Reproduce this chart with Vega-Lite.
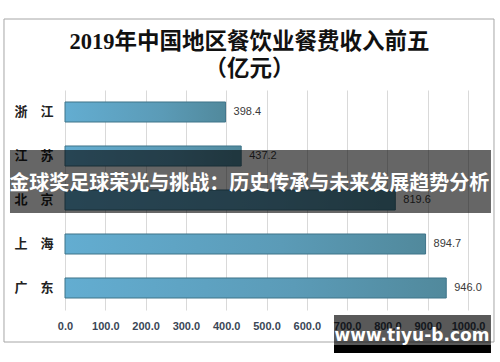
{
  "$schema": "https://vega.github.io/schema/vega-lite/v6.json",
  "width": 403,
  "height": 220,
  "autosize": {"type": "none"},
  "padding": {"left": 65, "top": 90, "right": 32, "bottom": 52},
  "background": "white",
  "config": {"view": {"stroke": null}},
  "title": {
    "text": ["2019年中国地区餐饮业餐费收入前五", "（亿元）"],
    "font": "Liberation Serif, Noto Sans CJK SC",
    "fontSize": 22.5,
    "fontWeight": "bold",
    "color": "#111111",
    "anchor": "middle",
    "frame": "group",
    "dx": -17,
    "offset": -62,
    "lineHeight": 27
  },
  "layer": [
    {
      "data": {"values": [{"x1": -151.4, "x2": 1064.5, "y1": -71, "y2": 252}]},
      "mark": {"type": "rect", "fill": null, "stroke": "#a6a6a6", "strokeWidth": 1},
      "encoding": {
        "x": {"field": "x1", "type": "quantitative", "scale": {"domain": [0, 1000], "nice": false}},
        "x2": {"field": "x2"},
        "y": {"field": "y1", "type": "quantitative", "scale": {"domain": [0, 220], "reverse": true, "nice": false, "zero": false}, "axis": null},
        "y2": {"field": "y2"}
      }
    },
    {
      "data": {"values": [
        {"region": "浙　江", "value": 398.4},
        {"region": "江　苏", "value": 437.2},
        {"region": "北　京", "value": 819.6},
        {"region": "上　海", "value": 894.7},
        {"region": "广　东", "value": 946.0}
      ]},
      "encoding": {
        "y": {
          "field": "region", "type": "nominal", "sort": null,
          "scale": {"paddingInner": 0.545, "paddingOuter": 0.2725},
          "axis": {
            "title": null, "ticks": false, "domain": false, "grid": false,
            "labelFont": "Liberation Serif, Noto Sans CJK SC", "labelFontSize": 13, "labelFontWeight": "bold",
            "labelColor": "#222222", "labelPadding": 12
          }
        },
        "x": {
          "field": "value", "type": "quantitative",
          "scale": {"domain": [0, 1000], "nice": false},
          "axis": {
            "title": null, "values": [0, 100, 200, 300, 400, 500, 600, 700, 800, 900, 1000],
            "format": ".1f", "ticks": false, "domain": false, "grid": true, "gridColor": "#d9d9d9",
            "labelOverlap": false, "labelFlush": false,
            "labelFont": "Liberation Sans", "labelFontSize": 11, "labelFontWeight": "bold",
            "labelColor": "#3a4656", "labelPadding": 10
          }
        }
      },
      "layer": [
        {
          "mark": {
            "type": "bar",
            "color": {"gradient": "linear", "x1": 0, "x2": 1, "y1": 0, "y2": 0,
              "stops": [{"offset": 0, "color": "#63add1"}, {"offset": 0.6, "color": "#5b9bb7"}, {"offset": 1, "color": "#51899c"}]},
            "stroke": "#3f7489",
            "strokeWidth": 1
          }
        },
        {
          "mark": {"type": "text", "align": "left", "dx": 8, "font": "Liberation Sans", "fontSize": 11, "color": "#3a3a3a"},
          "encoding": {"text": {"field": "value", "type": "quantitative", "format": ".1f"}}
        }
      ]
    },
    {
      "data": {"values": [{"x1": -136.5, "x2": 1057, "y1": 60, "y2": 123}]},
      "mark": {"type": "rect", "color": "#000000", "opacity": 0.6},
      "encoding": {
        "x": {"field": "x1", "type": "quantitative"},
        "x2": {"field": "x2"},
        "y": {"field": "y1", "type": "quantitative", "scale": {"domain": [0, 220], "reverse": true, "nice": false, "zero": false}, "axis": null},
        "y2": {"field": "y2"}
      }
    },
    {
      "data": {"values": [{"x": 457, "y": 94, "label": "金球奖足球荣光与挑战：历史传承与未来发展趋势分析"}]},
      "mark": {"type": "text", "font": "Noto Sans CJK SC", "fontSize": 20, "fontWeight": "bold", "color": "white", "align": "center", "baseline": "middle"},
      "encoding": {
        "x": {"field": "x", "type": "quantitative"},
        "y": {"field": "y", "type": "quantitative", "scale": {"domain": [0, 220], "reverse": true, "nice": false, "zero": false}, "axis": null},
        "text": {"field": "label"}
      }
    },
    {
      "data": {"values": [{"x1": 667.5, "x2": 1057, "y1": 225, "y2": 255}]},
      "mark": {"type": "rect", "color": "#000000", "opacity": 0.65},
      "encoding": {
        "x": {"field": "x1", "type": "quantitative"},
        "x2": {"field": "x2"},
        "y": {"field": "y1", "type": "quantitative", "scale": {"domain": [0, 220], "reverse": true, "nice": false, "zero": false}, "axis": null},
        "y2": {"field": "y2"}
      }
    },
    {
      "data": {"values": [{"x1": 667.5, "x2": 1057, "y1": 255, "y2": 263}]},
      "mark": {"type": "rect", "color": "#000000", "opacity": 1},
      "encoding": {
        "x": {"field": "x1", "type": "quantitative"},
        "x2": {"field": "x2"},
        "y": {"field": "y1", "type": "quantitative", "scale": {"domain": [0, 220], "reverse": true, "nice": false, "zero": false}, "axis": null},
        "y2": {"field": "y2"}
      }
    },
    {
      "data": {"values": [{"x": 861, "y": 246, "label": "www.tiyu-b.com"}]},
      "mark": {"type": "text", "font": "DejaVu Sans", "fontSize": 17, "fontWeight": "bold", "color": "white", "align": "center", "baseline": "middle"},
      "encoding": {
        "x": {"field": "x", "type": "quantitative"},
        "y": {"field": "y", "type": "quantitative", "scale": {"domain": [0, 220], "reverse": true, "nice": false, "zero": false}, "axis": null},
        "text": {"field": "label"}
      }
    }
  ],
  "resolve": {"scale": {"y": "independent"}}
}
